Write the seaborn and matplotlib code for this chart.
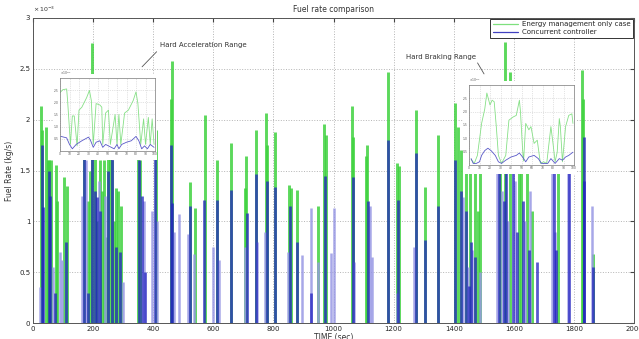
import matplotlib
matplotlib.use("Agg")
import matplotlib.pyplot as plt
from matplotlib.patches import Rectangle
from matplotlib.lines import Line2D
import numpy as np
import pandas as pd
import seaborn as sns

# main plot: fuel rate spikes (x 10^-3 kg/s)
green_t = [27, 30, 43, 50, 54, 60, 75, 79, 104, 112, 170, 183, 190, 198, 205, 212, 224, 230, 236, 243,
           250, 256, 262, 268, 275, 283, 292, 350, 357, 410, 458, 461, 522, 538, 572, 613, 660, 707, 710, 742,
           775, 780, 805, 852, 860, 880, 948, 970, 975, 1062, 1066, 1108, 1112, 1180, 1212, 1218, 1275, 1305, 1348, 1405,
           1415, 1425, 1440, 1455, 1470, 1480, 1487, 1555, 1571, 1588, 1618, 1625, 1645, 1662, 1746, 1826, 1830, 1862]
green_h = [2.13, 1.9, 1.93, 1.6, 1.6, 1.6, 1.55, 1.2, 1.44, 1.35, 2.0, 1.2, 1.5, 2.75, 1.7, 1.0, 1.6, 1.3, 1.6, 0.85,
           2.0, 1.8, 1.6, 1.0, 1.33, 1.3, 1.15, 2.0, 1.6, 1.9, 2.2, 2.58, 1.39, 1.13, 2.05, 1.6, 1.77, 1.33, 1.64, 1.9,
           2.07, 1.75, 1.88, 1.36, 1.33, 1.31, 1.15, 1.96, 1.85, 2.13, 1.83, 1.64, 1.75, 2.47, 1.57, 1.54, 2.1, 1.34, 1.85, 2.16,
           1.93, 1.7, 1.5, 1.5, 1.5, 1.1, 1.6, 1.7, 2.76, 2.47, 1.8, 1.6, 1.6, 1.1, 1.5, 2.49, 2.2, 0.68]

blue_t = [29, 33, 52, 58, 72, 110, 170, 183, 198, 205, 212, 224, 250, 262, 276, 290, 352, 362, 372, 405,
          460, 464, 524, 570, 613, 660, 712, 742, 778, 805, 855, 880, 925, 972, 1064, 1115, 1180, 1215, 1275, 1305,
          1348, 1403, 1425, 1440, 1450, 1456, 1470, 1550, 1566, 1575, 1596, 1610, 1630, 1650, 1676, 1733, 1742, 1785, 1832, 1835,
          1865]
blue_h = [1.75, 1.14, 1.5, 1.25, 0.3, 0.8, 1.7, 0.3, 1.7, 1.3, 1.24, 1.1, 1.5, 1.7, 0.75, 0.7, 1.6, 1.25, 0.5, 1.9,
          1.75, 1.18, 1.15, 1.21, 1.21, 1.31, 1.08, 1.47, 1.4, 1.34, 1.15, 0.8, 0.3, 1.45, 1.44, 1.2, 1.8, 1.21, 1.67, 0.82,
          1.15, 1.6, 1.3, 1.1, 0.36, 0.8, 0.65, 1.6, 1.2, 1.5, 1.6, 0.9, 1.2, 0.72, 0.6, 1.7, 0.72, 1.7, 1.83, 1.4,
          0.55]

# faint (thin) traces of the concurrent controller
lav_t = [22, 66, 90, 95, 163, 177, 218, 240, 300, 368, 397, 414, 470, 487, 517, 536, 598, 618, 705, 745,
         772, 848, 895, 925, 950, 993, 1003, 1068, 1122, 1128, 1210, 1268, 1432, 1448, 1462, 1488, 1545, 1560, 1582, 1603,
         1637, 1655, 1727, 1738, 1780, 1860]
lav_h = [0.35, 0.55, 0.7, 0.62, 1.25, 1.6, 1.4, 1.25, 0.4, 1.2, 1.1, 1.0, 0.9, 1.07, 0.88, 0.68, 0.75, 0.62, 0.75, 0.8,
         0.9, 0.7, 0.67, 1.13, 0.6, 0.69, 1.13, 0.6, 1.15, 0.65, 0.3, 0.75, 1.24, 0.55, 0.72, 0.5, 1.6, 1.3, 1.0, 1.4,
         1.0, 1.3, 1.6, 0.9, 1.6, 1.15]

# zoomed insets
acc_green_x = [0, 3, 7, 8, 11, 13, 15, 18, 20, 23, 28, 31, 33, 35, 38, 42, 44, 45, 48, 51,
               53, 58, 60, 62, 64, 68, 72, 77, 80, 82, 85, 88, 90, 93, 95, 97, 99]
acc_green_y = [2.4, 2.52, 2.55, 2.07, 0.27, 1.44, 1.44, 0.21, 1.68, 1.8, 2.19, 2.49, 2.07, 0.27, 1.95, 1.89, 1.8, 0.27, 1.56, 1.68,
               0.27, 1.5, 0.27, 1.5, 0.27, 1.56, 1.68, 2.07, 2.43, 1.95, 0.27, 1.32, 0.27, 1.38, 0.27, 1.32, 0.27]
acc_blue_x = [1, 7, 10, 13, 17, 23, 30, 32, 35, 38, 42, 45, 48, 51, 57, 60, 62, 65, 70, 75,
              80, 83, 86, 89, 92, 95, 99]
acc_blue_y = [0.6, 0.54, 0.27, 0.09, 0.27, 0.42, 0.57, 0.45, 0.15, 0.36, 0.42, 0.15, 0.27, 0.21, 0.09, 0.27, 0.09, 0.27, 0.36, 0.42,
              0.6, 0.42, 0.09, 0.21, 0.09, 0.27, 0.15]

brk_green_x = [2, 5, 8, 12, 15, 17, 18, 20, 22, 24, 26, 28, 31, 35, 38, 42, 45, 48, 49, 51,
               52, 54, 57, 59, 62, 65, 68, 71, 74, 78, 80, 82, 84, 86, 87, 89, 92, 95, 98, 99]
brk_green_y = [0.21, 0.06, 0.36, 1.56, 2.1, 2.7, 2.55, 2.25, 2.43, 2.37, 1.44, 0.36, 0.06, 0.36, 1.68, 1.8, 1.86, 2.43, 2.01, 0.6,
               0.15, 1.56, 1.32, 1.44, 0.81, 0.93, 0.06, 0.12, 0.06, 1.44, 0.81, 0.12, 0.48, 1.74, 1.44, 0.12, 1.44, 1.86, 1.92, 1.56]
brk_blue_x = [2, 4, 7, 10, 12, 15, 18, 21, 25, 28, 31, 35, 40, 45, 48, 51, 54, 57, 62, 66,
              69, 75, 78, 82, 84, 86, 89, 92, 95, 99]
brk_blue_y = [0.24, 0.06, 0.06, 0.12, 0.36, 0.54, 0.63, 0.54, 0.36, 0.12, 0.06, 0.18, 0.3, 0.36, 0.45, 0.3, 0.12, 0.3, 0.36, 0.24,
              0.06, 0.06, 0.24, 0.06, 0.15, 0.24, 0.18, 0.3, 0.36, 0.48]

x_ticks = [0, 200, 400, 600, 800, 1000, 1200, 1400, 1600, 1800, 2000]
y_ticks = [0, 0.5, 1, 1.5, 2, 2.5, 3]
y_tick_labels = ["0", "0.5", "1", "1.5", "2", "2.5", "3"]

green = "#3fd23f"
blue = "#2222c0"
lav = "#9898e4"
grid_col = "#b4b4b4"

sns.set_style("white")
plt.rcParams["font.family"] = ["DejaVu Sans"]

fig = plt.figure(figsize=(6.39, 3.39), dpi=100)
ax = fig.add_axes([33 / 639, 1 - 323 / 339, 601 / 639, 305 / 339])

# energy management case first, concurrent controller drawn on top
ax.vlines(green_t, 0, green_h, color=green, lw=2.1, alpha=0.85)
ax.vlines(lav_t, 0, lav_h, color=lav, lw=1.8, alpha=0.85)
ax.vlines(blue_t, 0, blue_h, color=blue, lw=2.0, alpha=0.75)

ax.set_xlim(0, 2000)
ax.set_ylim(0, 3)
ax.set_xticks(x_ticks)
ax.set_yticks(y_ticks)
ax.set_yticklabels(y_tick_labels)
ax.grid(True, color=grid_col, ls=":", lw=0.7)
ax.tick_params(labelsize=5, direction="in", length=3, top=True, right=True, pad=2, color="#444444")
for s in ax.spines.values():
    s.set_color("#555555")
    s.set_linewidth(0.7)
ax.set_title("Fuel rate comparison", fontsize=5.5, pad=4, color="#333333")
ax.set_xlabel("TIME (sec)", fontsize=5.5, labelpad=1, color="#333333")
ax.set_ylabel("Fuel Rate (kg/s)", fontsize=5.5, labelpad=4, color="#333333")
ax.text(0, 1.012, r"$\times\,10^{-3}$", transform=ax.transAxes, fontsize=4.5, color="#333333", va="bottom")

handles = [Line2D([], [], color="#7ee07e", lw=0.9), Line2D([], [], color="#4040c0", lw=0.9)]
leg = ax.legend(handles, ["Energy management only case", "Concurrent controller"], loc="upper right",
                fontsize=5.0, frameon=True, fancybox=False, borderaxespad=0.15, handlelength=3.6,
                labelspacing=0.25, borderpad=0.35, handletextpad=0.6)
leg.get_frame().set_edgecolor("#333333")
leg.get_frame().set_linewidth(0.7)
leg.get_frame().set_alpha(1)

ax.annotate("Hard Acceleration Range", xy=(363, 2.52), xytext=(422, 2.73), fontsize=5, color="#333333",
            va="center", arrowprops=dict(arrowstyle="-", color="#555555", lw=0.6, shrinkA=0, shrinkB=0,
                                         relpos=(0, 0)))
ax.annotate("Hard Braking Range", xy=(1501, 2.45), xytext=(1240, 2.62), fontsize=5, color="#333333",
            va="center", arrowprops=dict(arrowstyle="-", color="#555555", lw=0.6, shrinkA=0, shrinkB=0,
                                         relpos=(1, 0)))

# white backing boxes for the insets (they cover the spikes)
for r in [(53, 74, 157, 160), (463, 81, 577, 174)]:
    fig.add_artist(Rectangle((r[0] / 639, 1 - r[3] / 339), (r[2] - r[0]) / 639, (r[3] - r[1]) / 339,
                             transform=fig.transFigure, facecolor="white", edgecolor="none", zorder=1))


def draw_inset(rect, gx, gy, bx, by):
    ins = fig.add_axes(rect, zorder=2)
    sns.lineplot(x=gx, y=gy, ax=ins, color="#86e086", lw=0.6)
    sns.lineplot(x=bx, y=by, ax=ins, color="#5858c8", lw=0.6)
    ins.set_xlim(0, 100)
    ins.set_ylim(0, 3)
    ins.set_xticks(range(0, 101, 10))
    ins.set_yticks([0.5, 1, 1.5, 2, 2.5])
    ins.grid(True, color="#c8c8c8", ls=":", lw=0.5)
    ins.tick_params(labelsize=2.2, length=1.2, direction="in", pad=0.8, colors="#555555")
    ins.set_xlabel("")
    ins.set_ylabel("")
    for s in ins.spines.values():
        s.set_color("#777777")
        s.set_linewidth(0.5)
    ins.text(0, 1.01, r"$\times10^{-3}$", transform=ins.transAxes, fontsize=2.2, color="#555555", va="bottom")
    return ins


draw_inset([60 / 639, 1 - 151 / 339, 95 / 639, 73 / 339], acc_green_x, acc_green_y, acc_blue_x, acc_blue_y)
draw_inset([469 / 639, 1 - 165 / 339, 105 / 639, 80 / 339], brk_green_x, brk_green_y, brk_blue_x, brk_blue_y)

fig.savefig("out.png", dpi=100)
